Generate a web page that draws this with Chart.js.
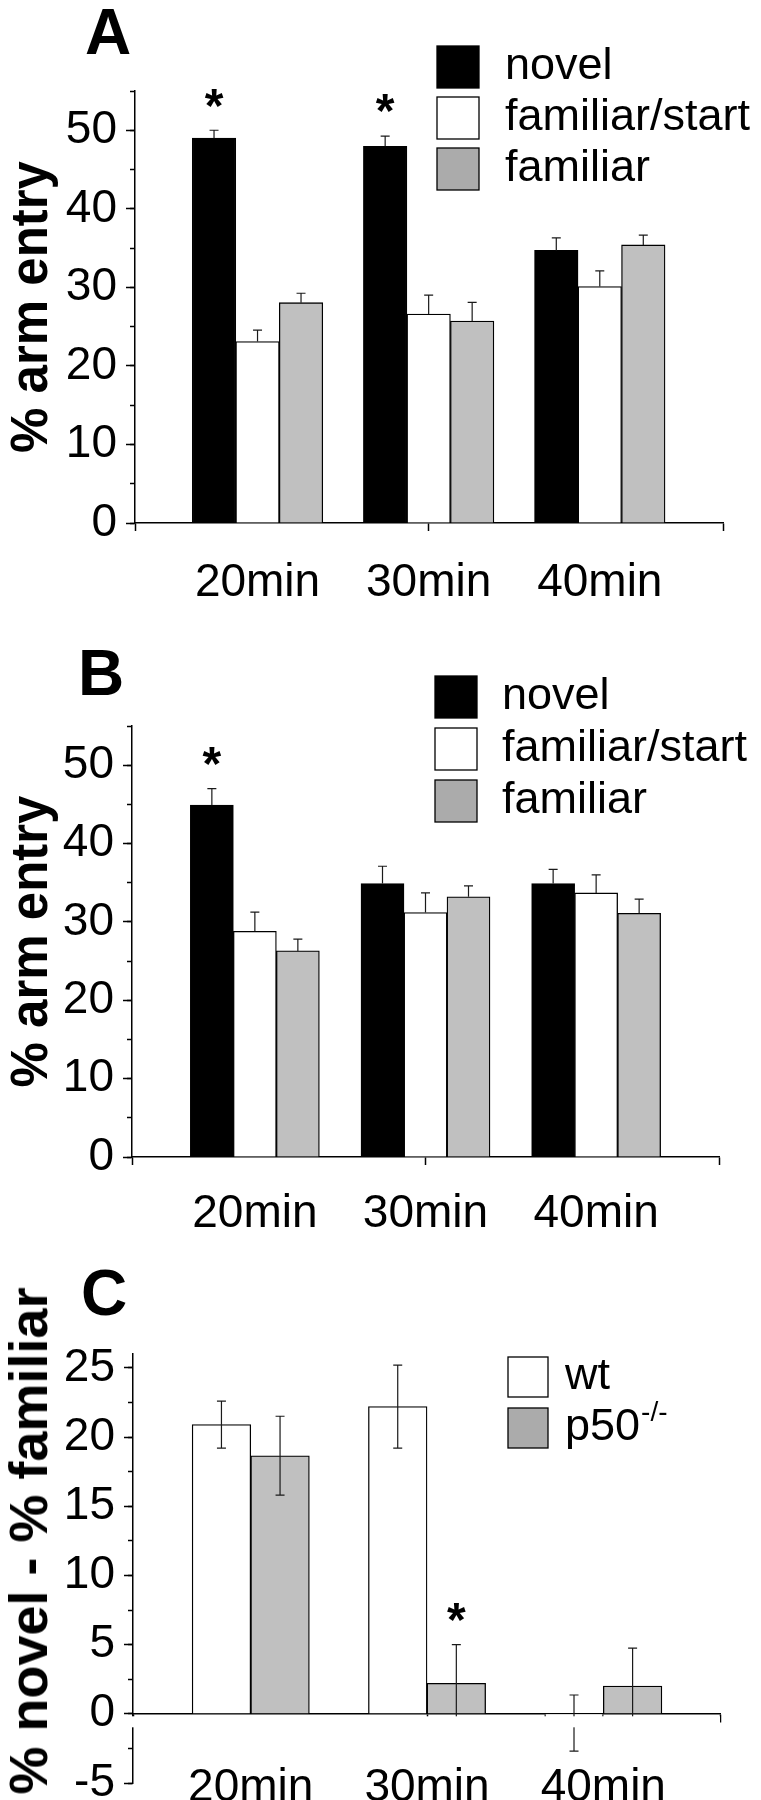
<!DOCTYPE html>
<html>
<head>
<meta charset="utf-8">
<script src="https://cdn.jsdelivr.net/npm/chart.js@4.4.1/dist/chart.umd.min.js"></script>
<style>
  html, body { margin: 0; padding: 0; background: #fff; }
  #page { position: relative; width: 761px; height: 1800px; overflow: hidden;
          font-family: "Liberation Sans", Arial, sans-serif; color: #000; }
  canvas { position: absolute; left: 0; }
  .panel { position: absolute; font-weight: bold; font-size: 64px; line-height: 1; }
  #titleC { position: absolute; left: 28px; top: 1541px; font-weight: bold; font-size: 54px;
            line-height: 1; white-space: nowrap; transform: translate(-50%, -50%) rotate(-90deg); }
</style>
</head>
<body>
<div id="page">
  <canvas id="chartA" width="761" height="600" style="top:0"></canvas>
  <canvas id="chartB" width="761" height="640" style="top:600px"></canvas>
  <canvas id="chartC" width="761" height="560" style="top:1240px"></canvas>
  <div class="panel" style="left:85px;top:0">A</div>
  <div class="panel" style="left:78px;top:641px">B</div>
  <div class="panel" style="left:81px;top:1261px">C</div>
  <div id="titleC">% novel - % familiar</div>
</div>
<script>
const FONT = '"Liberation Sans", Arial, sans-serif';
Chart.defaults.font.family = FONT;
Chart.defaults.color = '#000';

// categories
const categories = ['20min', '30min', '40min'];

// panel A
const novelA = [49.0, 47.95, 34.7];
const novelErrA = [1.0, 1.3, 1.6];
const startA = [23.1, 26.6, 30.1];
const startErrA = [1.45, 2.4, 2.0];
const familiarA = [28.05, 25.7, 35.4];
const familiarErrA = [1.2, 2.4, 1.25];
const starsA = [[0, 0], [0, 1]];

// panel B
const novelB = [44.9, 34.9, 34.9];
const novelErrB = [2.1, 2.2, 1.8];
const startB = [28.8, 31.2, 33.7];
const startErrB = [2.45, 2.5, 2.3];
const familiarB = [26.3, 33.2, 31.1];
const familiarErrB = [1.5, 1.4, 1.8];
const starsB = [[0, 0]];

// panel C
const wtC = [20.9, 22.2, -0.67];
const wtErrC = [1.7, 3.0, 2.03];
const p50C = [18.65, 2.2, 2.0];
const p50ErrC = [2.85, 2.8, 2.75];
const starsC = [[1, 1]];

// axis ticks
const yTicksAB = [0, 10, 20, 30, 40, 50];
const yMinorAB = [0, 5, 10, 15, 20, 25, 30, 35, 40, 45, 50, 55];
const yTicksC = [-5, 0, 5, 10, 15, 20, 25];
const yMinorC = [-5, -2.5, 0, 2.5, 5, 7.5, 10, 12.5, 15, 17.5, 20, 22.5, 25];

const namesAB = ['novel', 'familiar/start', 'familiar'];
const namesC = ['wt', 'p50'];
const supC = ['', '-/-'];

const errorBars = {
  id: 'errorBars',
  afterDatasetsDraw(chart, args, o) {
    const ctx = chart.ctx;
    const y = chart.scales.y;
    ctx.save();
    ctx.strokeStyle = '#1a1a1a';
    ctx.lineWidth = 1.2;
    chart.data.datasets.forEach((ds, di) => {
      chart.getDatasetMeta(di).data.forEach((bar, i) => {
        const v = ds.data[i].y, e = ds.errors[i];
        const top = y.getPixelForValue(v + e);
        const bot = y.getPixelForValue(o.both ? v - e : v);
        ctx.beginPath();
        ctx.moveTo(bar.x, top); ctx.lineTo(bar.x, bot);
        ctx.moveTo(bar.x - 4.5, top); ctx.lineTo(bar.x + 4.5, top);
        if (o.both) { ctx.moveTo(bar.x - 4.5, bot); ctx.lineTo(bar.x + 4.5, bot); }
        ctx.stroke();
      });
    });
    ctx.fillStyle = '#000';
    ctx.font = 'bold 48px ' + FONT;
    ctx.textAlign = 'center';
    ctx.textBaseline = 'middle';
    (o.stars || []).forEach(([di, i]) => {
      const ds = chart.data.datasets[di];
      const bar = chart.getDatasetMeta(di).data[i];
      const top = y.getPixelForValue(ds.data[i].y + ds.errors[i]);
      ctx.fillText('*', bar.x, top - 31 + 9);
    });
    if (o.breakAt !== undefined && o.breakAt !== null) {
      const p = y.getPixelForValue(o.breakAt);
      const a = chart.chartArea;
      ctx.fillStyle = '#fff';
      ctx.fillRect(a.left - 3, p + 2.5, a.right - a.left + 3, 11);
    }
    ctx.restore();
  }
};

const boxLegend = {
  id: 'boxLegend',
  afterDraw(chart, args, o) {
    const ctx = chart.ctx;
    ctx.save();
    chart.data.datasets.forEach((ds, i) => {
      const top = o.y + i * o.pitch;
      ctx.fillStyle = ds.legendColor;
      ctx.fillRect(o.x, top, o.box, o.box);
      ctx.strokeStyle = '#000';
      ctx.lineWidth = 1.3;
      ctx.strokeRect(o.x, top, o.box, o.box);
      ctx.fillStyle = '#000';
      ctx.font = o.size + 'px ' + FONT;
      ctx.textAlign = 'left';
      ctx.textBaseline = 'alphabetic';
      const base = top + o.box / 2 + o.size * 0.27;
      ctx.fillText(ds.label, o.textX, base);
      if (ds.sup) {
        const w = ctx.measureText(ds.label).width;
        ctx.font = Math.round(o.size * 0.62) + 'px ' + FONT;
        ctx.fillText(ds.sup, o.textX + w + 1, base - o.size * 0.42);
      }
    });
    ctx.restore();
  }
};

function tickVal(ctx) {
  return ctx && ctx.tick ? ctx.tick.value : null;
}

function makeChart(id, c) {
  const datasets = c.series.map(s => ({
    label: s.label,
    sup: s.sup,
    data: s.values.map((v, i) => ({ x: i, y: v })),
    errors: s.errors,
    backgroundColor: s.color,
    legendColor: s.legendColor,
    borderColor: '#000',
    borderWidth: 1.3,
    barThickness: c.barThickness,
    yAxisID: 'y'
  }));
  const tickFont = { size: 46, lineHeight: 1 };
  return new Chart(document.getElementById(id), {
    type: 'bar',
    data: { datasets },
    options: {
      responsive: false,
      animation: false,
      devicePixelRatio: 1,
      layout: { padding: { top: c.pad[0], right: c.pad[1], bottom: c.pad[2], left: 0 } },
      scales: {
        x: {
          type: 'linear',
          min: c.xMin,
          max: c.xMax,
          offset: false,
          position: c.xPos,
          z: c.xZ || 0,
          afterBuildTicks: s => { s.ticks = [c.xMin, 0, 1, 2, c.xMax].map(v => ({ value: v })); },
          afterFit: s => {
            if (c.xHeight) s.height = c.xHeight;
            s.paddingLeft = 0; s.paddingRight = 0;
          },
          border: { color: '#000', width: 1.5 },
          grid: {
            offset: false,
            drawOnChartArea: false,
            tickLength: 8,
            tickWidth: 1.5,
            color: '#000',
            tickColor: ctx => {
              const v = tickVal(ctx);
              return (v === 0 || v === 2) ? 'rgba(0,0,0,0)' : '#000';
            }
          },
          ticks: {
            autoSkip: false,
            maxRotation: 0,
            minRotation: 0,
            padding: c.xLabelPad,
            font: tickFont,
            callback: v => Number.isInteger(v) ? categories[v] : ''
          }
        },
        y: {
          type: 'linear',
          min: c.yMin,
          max: c.yMax,
          position: 'left',
          afterBuildTicks: s => { s.ticks = c.yTicks.map(v => ({ value: v })); },
          afterFit: s => { s.width = c.yWidth; s.paddingTop = 0; s.paddingBottom = 0; },
          border: { color: '#000', width: 1.5 },
          grid: { drawOnChartArea: false, tickLength: 9, tickWidth: 1.5, color: '#000' },
          ticks: { padding: 9, font: tickFont },
          title: {
            display: !!c.yTitle,
            text: c.yTitle || '',
            font: { size: 51, weight: 'bold', lineHeight: 1 },
            padding: { top: 7, bottom: 0 }
          }
        },
        yMinor: {
          type: 'linear',
          axis: 'y',
          min: c.yMin,
          max: c.yMax,
          position: { x: c.xMin },
          afterBuildTicks: s => { s.ticks = c.yMinor.map(v => ({ value: v })); },
          border: { display: false },
          grid: { drawOnChartArea: false, tickLength: 5, tickWidth: 1.5, color: '#000' },
          ticks: { display: false }
        }
      },
      plugins: {
        legend: { display: false },
        tooltip: { enabled: false },
        errorBars: { both: c.both, stars: c.stars, breakAt: c.breakAt },
        boxLegend: c.legend
      }
    },
    plugins: [errorBars, boxLegend]
  });
}

makeChart('chartA', {
  series: [
    { label: namesAB[0], values: novelA, errors: novelErrA, color: '#000000', legendColor: '#000000' },
    { label: namesAB[1], values: startA, errors: startErrA, color: '#ffffff', legendColor: '#ffffff' },
    { label: namesAB[2], values: familiarA, errors: familiarErrA, color: '#c0c0c0', legendColor: '#ababab' }
  ],
  xMin: -0.716, xMax: 2.72, xPos: 'bottom', xHeight: 77, xLabelPad: 29,
  yMin: 0, yMax: 55, yTicks: yTicksAB, yMinor: yMinorAB, yWidth: 135,
  yTitle: '% arm entry',
  pad: [91, 38, 0],
  barThickness: 43.5,
  both: false,
  stars: starsA,
  legend: { x: 437, y: 46, box: 42, pitch: 51, textX: 505, size: 45 }
});

makeChart('chartB', {
  series: [
    { label: namesAB[0], values: novelB, errors: novelErrB, color: '#000000', legendColor: '#000000' },
    { label: namesAB[1], values: startB, errors: startErrB, color: '#ffffff', legendColor: '#ffffff' },
    { label: namesAB[2], values: familiarB, errors: familiarErrB, color: '#c0c0c0', legendColor: '#ababab' }
  ],
  xMin: -0.72, xMax: 2.72, xPos: 'bottom', xHeight: 83, xLabelPad: 26,
  yMin: 0, yMax: 55, yTicks: yTicksAB, yMinor: yMinorAB, yWidth: 132,
  yTitle: '% arm entry',
  pad: [126, 42, 0],
  barThickness: 43,
  both: false,
  stars: starsB,
  legend: { x: 435, y: 76, box: 42, pitch: 52, textX: 502, size: 45 }
});

makeChart('chartC', {
  series: [
    { label: namesC[0], sup: supC[0], values: wtC, errors: wtErrC, color: '#ffffff', legendColor: '#ffffff' },
    { label: namesC[1], sup: supC[1], values: p50C, errors: p50ErrC, color: '#c0c0c0', legendColor: '#ababab' }
  ],
  xMin: -0.668, xMax: 2.662, xPos: { y: 0 }, xZ: 1, xHeight: null, xLabelPad: 44,
  yMin: -5, yMax: 26, yTicks: yTicksC, yMinor: yMinorC, yWidth: 133,
  yTitle: null,
  pad: [114, 41, 17],
  barThickness: 58.6,
  both: true,
  stars: starsC,
  breakAt: 0,
  legend: { x: 508, y: 117, box: 40, pitch: 51, textX: 565, size: 45 }
});
</script>
</body>
</html>
